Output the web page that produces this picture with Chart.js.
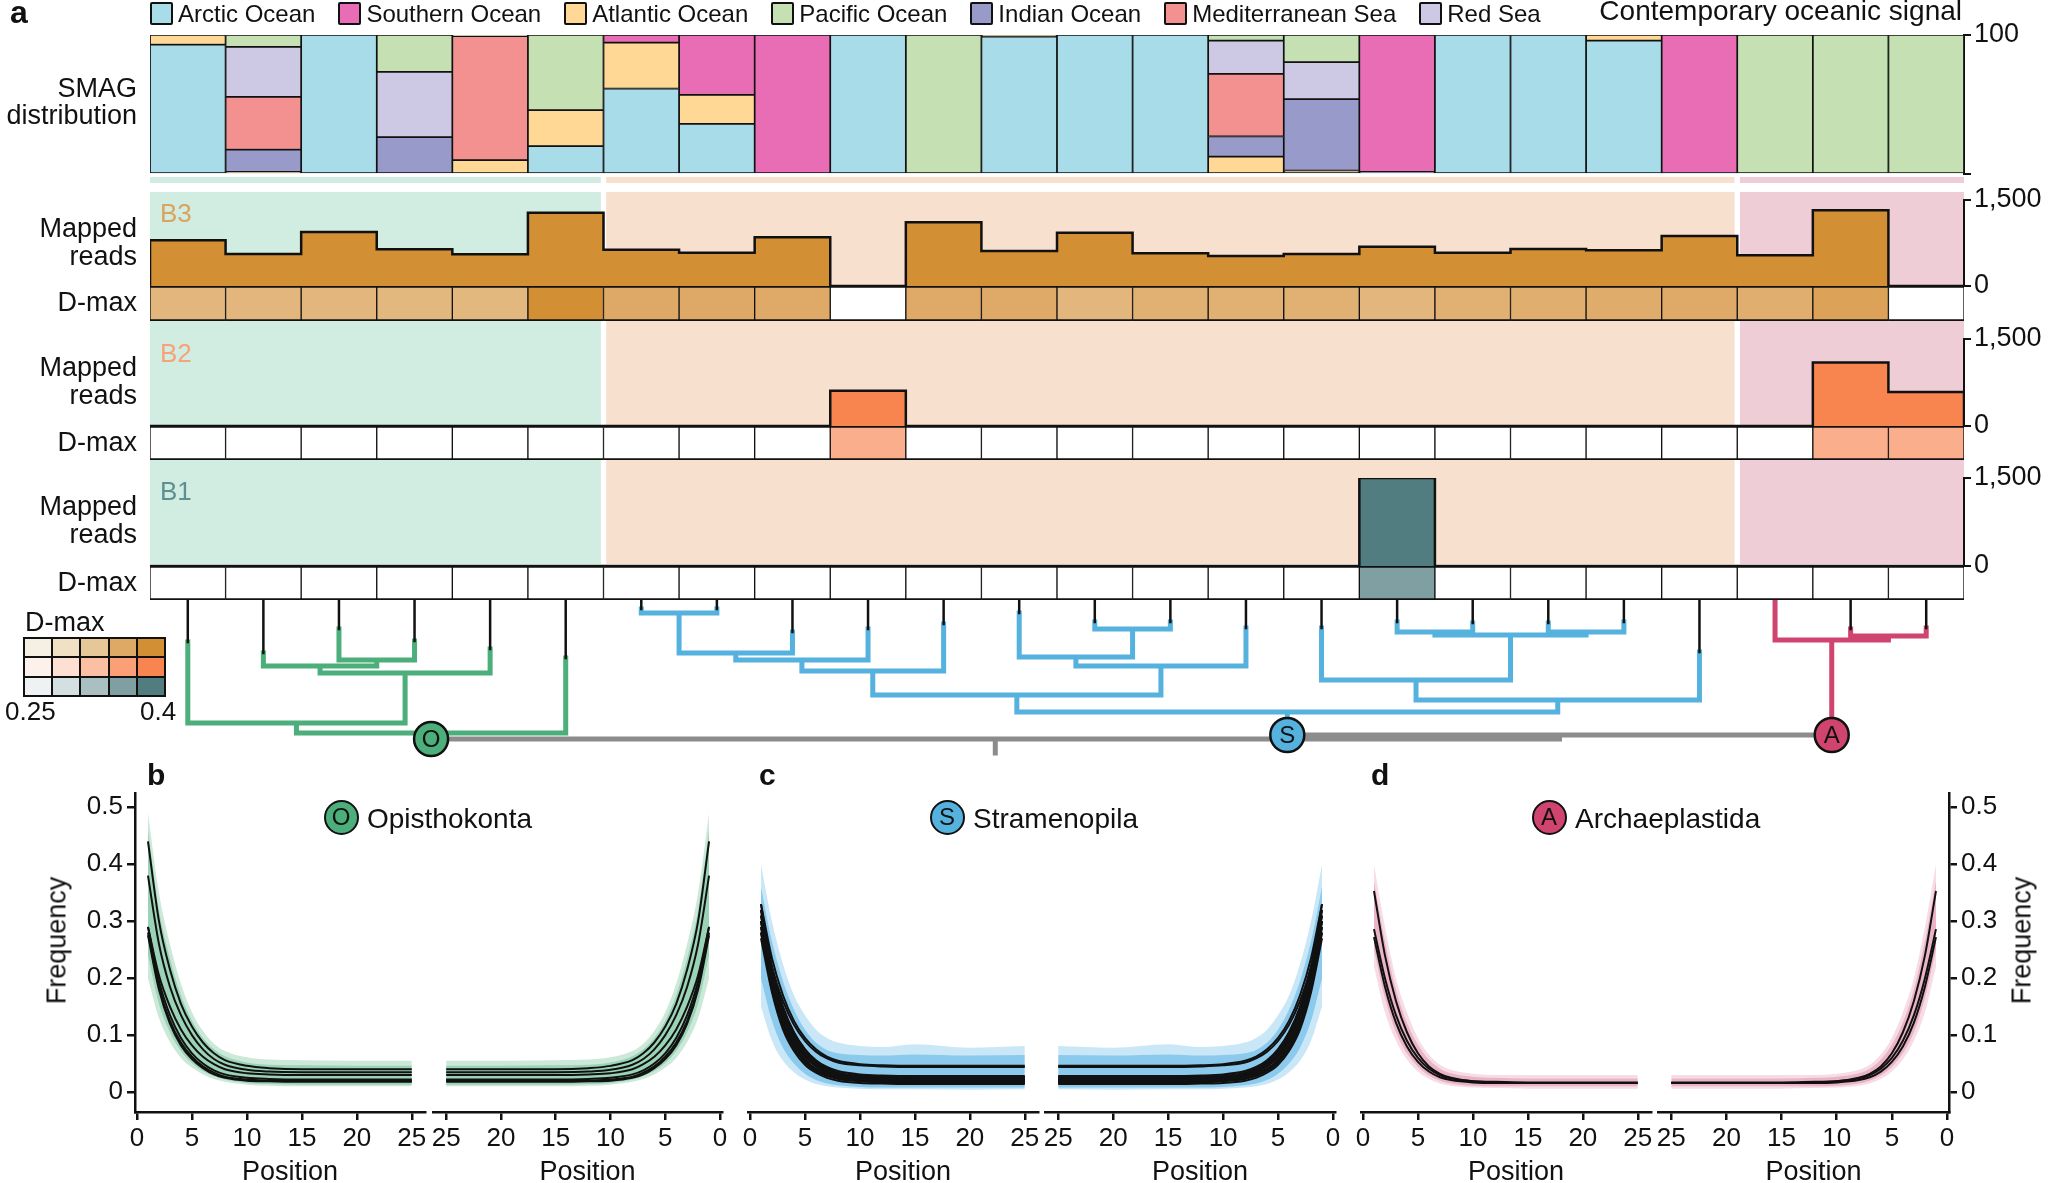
<!DOCTYPE html>
<html>
<head>
<meta charset="utf-8">
<script src="https://cdn.jsdelivr.net/npm/chart.js@4.4.1/dist/chart.umd.min.js"></script>
<style>
  html, body { margin: 0; padding: 0; background: #fff; }
  body { width: 2048px; height: 1183px; position: relative; overflow: hidden;
         font-family: "Liberation Sans", Arial, Helvetica, sans-serif; color: #111; }
  canvas { position: absolute; }
  .txt { position: absolute; white-space: nowrap; z-index: 5; }
  .legend { position: absolute; left: 150px; top: 2px; display: flex; gap: 23px; z-index: 5; font-size: 24px; }
  .legend .item { display: flex; align-items: center; gap: 5px; line-height: 23px; }
  .legend .sw { width: 23px; height: 23px; box-sizing: border-box; border: 2px solid #111; border-radius: 2px; }
  .dmaxkey { position: absolute; left: 23px; top: 637px; width: 143px; height: 60px; box-sizing: border-box;
             display: grid; grid-template-columns: repeat(5, 1fr); grid-template-rows: repeat(3, 1fr);
             gap: 2px; padding: 2px; background: #111; z-index: 5; }
  .badge { position: absolute; width: 35px; height: 35px; box-sizing: border-box; border: 2.5px solid #111;
           border-radius: 50%; text-align: center; font-size: 24px; line-height: 30px; z-index: 5; }
</style>
</head>
<body>
<script>
const FONT = '"Liberation Sans", Arial, Helvetica, sans-serif';
Chart.defaults.font.family = FONT;
Chart.defaults.color = '#111';

// ---------- data ----------
const columnCount = 24;

// SMAG distribution (% of SMAGs per ocean), one array per ocean
const oceanNames = ['Arctic Ocean', 'Southern Ocean', 'Atlantic Ocean', 'Pacific Ocean', 'Indian Ocean', 'Mediterranean Sea', 'Red Sea'];
const smagArctic   = [93, 0, 100, 0, 0, 20, 61.5, 36, 0, 100, 0, 98.8, 100, 100, 0, 0, 0, 100, 100, 96, 0, 0, 0, 0];
const smagAtlantic = [7, 1.5, 0, 0, 10, 26, 33, 21, 0, 0, 0, 1.2, 0, 0, 12.5, 2.5, 0, 0, 0, 4, 0, 0, 0, 0];
const smagIndian   = [0, 16, 0, 26.5, 0, 0, 0, 0, 0, 0, 0, 0, 0, 0, 14.5, 51.3, 1.5, 0, 0, 0, 0.8, 0, 0, 0];
const smagMed      = [0, 38, 0, 0, 89.2, 0, 0, 0, 0, 0, 0, 0, 0, 0, 45, 0, 0, 0, 0, 0, 0, 0, 0, 0];
const smagRedSea   = [0, 36, 0, 47, 0, 0, 0, 0, 0, 0, 0, 0, 0, 0, 24, 26.7, 0, 0, 0, 0, 0, 0, 0, 0];
const smagPacific  = [0, 8.5, 0, 26.5, 0.8, 54, 0, 0, 0, 0, 100, 0, 0, 0, 4, 19.5, 0, 0, 0, 0, 0, 100, 100, 100];
const smagSouthern = [0, 0, 0, 0, 0, 0, 5.5, 43, 100, 0, 0, 0, 0, 0, 0, 0, 98.5, 0, 0, 0, 99.2, 0, 0, 0];

// mapped reads per sample (B3, B2, B1 layers)
const readsB3 = [797, 558, 942, 640, 552, 1279, 634, 581, 849, 0, 1110, 610, 930, 570, 523, 558, 686, 581, 645, 622, 872, 535, 1320, 0];
const readsB2 = [0, 0, 0, 0, 0, 0, 0, 0, 0, 606, 0, 0, 0, 0, 0, 0, 0, 0, 0, 0, 0, 0, 1096, 588];
const readsB1 = [0, 0, 0, 0, 0, 0, 0, 0, 0, 0, 0, 0, 0, 0, 0, 0, 1500, 0, 0, 0, 0, 0, 0, 0];
const readsTicks = [0, 1500];

// D-max per sample (null = not assessed)
const dmaxB3 = [0.345, 0.345, 0.345, 0.343, 0.343, 0.40, 0.362, 0.362, 0.36, null, 0.36, 0.36, 0.345, 0.352, 0.352, 0.352, 0.345, 0.352, 0.355, 0.358, 0.36, 0.355, 0.372, null];
const dmaxB2 = [null, null, null, null, null, null, null, null, null, 0.345, null, null, null, null, null, null, null, null, null, null, null, null, 0.345, 0.345];
const dmaxB1 = [null, null, null, null, null, null, null, null, null, null, null, null, null, null, null, null, 0.362, null, null, null, null, null, null, null];
const dmaxMin = 0.25, dmaxMax = 0.4;

// clades: column ranges, trees ([height, left, right], leaves = column index)
const cladeNames = ['Opisthokonta', 'Stramenopila', 'Archaeplastida'];
const cladeLetters = ['O', 'S', 'A'];
const cladeSpans = [[0, 6], [6, 21], [21, 24]];
const leafTip = [42, 53, 29, 41, 49, 58, 9, 9, 32, 29, 24, 13, 22, 22, 28, 28, 22, 23, 23, 22, 52, 0, 29, 28];
const treeO = [133, [123, 0, [73, [66, 1, [60, 2, 3]], 4]], 5];
const treeS = [112, [95, [71, [60, [53, [13, 6, 7], 8], 9], 10], [66, [57, 11, [29, 12, 13]], 14]],
                    [100, [80, 15, [35, [32, 16, 17], [32, 18, 19]]], 20]];
const treeA = [40, 21, [36, 22, 23]];
const backbone = [139, 'O', [135, 'S', 'A']];
const backboneRootStub = 153;

// damage profiles: frequency by read position
const damagePos = [1, 2, 3, 4, 5, 6, 7, 8, 10, 12, 15, 20, 25];
const freqTicks = [0, 0.1, 0.2, 0.3, 0.4, 0.5];
const posTicks = [0, 5, 10, 15, 20, 25];

const opiLines = [
  [0.44, 0.30, 0.215, 0.155, 0.115, 0.087, 0.068, 0.056, 0.046, 0.042, 0.040, 0.040, 0.040],
  [0.38, 0.26, 0.185, 0.135, 0.100, 0.075, 0.058, 0.048, 0.039, 0.036, 0.035, 0.035, 0.035],
  [0.29, 0.205, 0.150, 0.110, 0.082, 0.062, 0.049, 0.040, 0.033, 0.031, 0.030, 0.030, 0.030],
  [0.29, 0.195, 0.135, 0.095, 0.068, 0.050, 0.038, 0.031, 0.025, 0.023, 0.022, 0.022, 0.022],
  [0.28, 0.185, 0.125, 0.087, 0.062, 0.045, 0.034, 0.027, 0.022, 0.020, 0.020, 0.020, 0.020],
  [0.275, 0.180, 0.120, 0.082, 0.058, 0.042, 0.031, 0.025, 0.020, 0.019, 0.018, 0.018, 0.018]
];
const opiOuter = [
  [0.49, 0.35, 0.26, 0.19, 0.14, 0.107, 0.085, 0.072, 0.061, 0.057, 0.056, 0.055, 0.055],
  [0.20, 0.13, 0.088, 0.06, 0.043, 0.031, 0.023, 0.018, 0.013, 0.011, 0.010, 0.010, 0.010]
];
const opiInner = [
  [0.46, 0.32, 0.235, 0.17, 0.125, 0.095, 0.075, 0.063, 0.052, 0.048, 0.047, 0.046, 0.046],
  [0.24, 0.155, 0.105, 0.072, 0.051, 0.037, 0.028, 0.022, 0.016, 0.014, 0.013, 0.013, 0.013]
];

const strLines = [
  [0.33, 0.235, 0.17, 0.125, 0.095, 0.075, 0.062, 0.055, 0.049, 0.047, 0.046, 0.046, 0.046],
  [0.31, 0.22, 0.16, 0.118, 0.09, 0.071, 0.059, 0.052, 0.047, 0.045, 0.044, 0.044, 0.044],
  [0.33, 0.22, 0.15, 0.105, 0.075, 0.056, 0.044, 0.037, 0.031, 0.029, 0.028, 0.028, 0.028],
  [0.32, 0.21, 0.14, 0.097, 0.068, 0.05, 0.039, 0.033, 0.028, 0.027, 0.026, 0.026, 0.026],
  [0.32, 0.215, 0.148, 0.104, 0.075, 0.055, 0.042, 0.034, 0.028, 0.026, 0.025, 0.025, 0.025],
  [0.31, 0.20, 0.13, 0.088, 0.061, 0.045, 0.035, 0.03, 0.026, 0.025, 0.024, 0.024, 0.024],
  [0.30, 0.205, 0.142, 0.10, 0.072, 0.053, 0.04, 0.032, 0.026, 0.023, 0.022, 0.022, 0.022],
  [0.30, 0.19, 0.125, 0.083, 0.057, 0.041, 0.032, 0.027, 0.023, 0.022, 0.021, 0.021, 0.021],
  [0.30, 0.20, 0.135, 0.093, 0.066, 0.048, 0.036, 0.029, 0.023, 0.021, 0.020, 0.020, 0.020],
  [0.29, 0.185, 0.12, 0.08, 0.055, 0.039, 0.03, 0.025, 0.021, 0.020, 0.019, 0.019, 0.019],
  [0.29, 0.195, 0.132, 0.092, 0.066, 0.048, 0.036, 0.028, 0.022, 0.019, 0.018, 0.018, 0.018],
  [0.28, 0.18, 0.115, 0.076, 0.052, 0.037, 0.028, 0.023, 0.019, 0.018, 0.017, 0.017, 0.017],
  [0.28, 0.19, 0.13, 0.09, 0.064, 0.046, 0.034, 0.026, 0.020, 0.017, 0.016, 0.016, 0.016],
  [0.27, 0.175, 0.11, 0.072, 0.048, 0.034, 0.025, 0.020, 0.016, 0.015, 0.014, 0.014, 0.014]
];
const strOuter = [
  [0.40, 0.30, 0.225, 0.17, 0.135, 0.11, 0.095, 0.087, 0.081, 0.079, 0.084, 0.078, 0.081],
  [0.15, 0.09, 0.055, 0.035, 0.022, 0.014, 0.010, 0.008, 0.006, 0.005, 0.005, 0.004, 0.005]
];
const strInner = [
  [0.36, 0.265, 0.195, 0.145, 0.11, 0.087, 0.074, 0.068, 0.065, 0.064, 0.066, 0.064, 0.065],
  [0.20, 0.125, 0.078, 0.05, 0.032, 0.021, 0.015, 0.012, 0.009, 0.008, 0.008, 0.008, 0.008]
];

const arcLines = [
  [0.353, 0.24, 0.16, 0.105, 0.068, 0.045, 0.032, 0.025, 0.019, 0.018, 0.017, 0.017, 0.017],
  [0.286, 0.20, 0.135, 0.09, 0.06, 0.041, 0.03, 0.024, 0.019, 0.017, 0.016, 0.016, 0.016],
  [0.272, 0.185, 0.122, 0.08, 0.053, 0.036, 0.026, 0.021, 0.017, 0.016, 0.016, 0.016, 0.016]
];
const arcOuter = [
  [0.40, 0.29, 0.20, 0.14, 0.095, 0.066, 0.048, 0.039, 0.032, 0.030, 0.030, 0.030, 0.030],
  [0.22, 0.14, 0.09, 0.057, 0.036, 0.023, 0.015, 0.011, 0.008, 0.007, 0.006, 0.006, 0.006]
];
const arcInner = [
  [0.37, 0.265, 0.18, 0.122, 0.083, 0.057, 0.041, 0.033, 0.027, 0.025, 0.024, 0.024, 0.024],
  [0.25, 0.165, 0.105, 0.068, 0.044, 0.029, 0.020, 0.015, 0.011, 0.010, 0.010, 0.010, 0.010]
];

// ---------- styles ----------
const oceanColor = {
  'Arctic Ocean': '#a9dce9', 'Southern Ocean': '#e86db5', 'Atlantic Ocean': '#fed894', 'Pacific Ocean': '#c5e1b4',
  'Indian Ocean': '#989bc9', 'Mediterranean Sea': '#f39191', 'Red Sea': '#cdc8e4'
};
const paletteB3 = ['#f6efe3', '#f0e0c4', '#e6c797', '#dea865', '#d28f33'];
const paletteB2 = ['#fdf1ec', '#fde0d2', '#fbbfa3', '#fb9f77', '#f8844f'];
const paletteB1 = ['#eef2f2', '#d3dfe0', '#a9bfc2', '#7f9fa3', '#517c80'];
const cladeBand = ['#d1ece0', '#f8e0cf', '#efcdd6'];
const cladeLine = ['#4bae7b', '#55b1dd', '#cf4570'];
const PLOT_LEFT = 150, PLOT_RIGHT = 1964, AXIS_W = 2048 - PLOT_RIGHT;

// ---------- helpers ----------
function addCanvas(x, y, w, h) {
  const c = document.createElement('canvas');
  c.width = w; c.height = h;
  c.style.left = x + 'px'; c.style.top = y + 'px';
  c.style.width = w + 'px'; c.style.height = h + 'px';
  document.body.appendChild(c);
  return c;
}

// place a line of text by its baseline
function textAt(str, x, baseline, size, align, extra) {
  const d = document.createElement('div');
  d.className = 'txt';
  d.textContent = str;
  d.style.fontSize = size + 'px';
  d.style.lineHeight = size + 'px';
  d.style.top = (baseline - 0.8465 * size) + 'px';
  if (align === 'right') d.style.right = (2048 - x) + 'px';
  else if (align === 'center') { d.style.left = (x - 400) + 'px'; d.style.width = '800px'; d.style.textAlign = 'center'; }
  else d.style.left = x + 'px';
  Object.assign(d.style, extra || {});
  document.body.appendChild(d);
  return d;
}

function quiet(o) {
  const base = {
    responsive: false, animation: false, events: [],
    plugins: { legend: { display: false }, tooltip: { enabled: false } }
  };
  const out = Object.assign(base, o);
  out.layout = Object.assign({ autoPadding: false }, o.layout || {});
  return out;
}

function rightAxis(max, fmt, extra) {
  return Object.assign({
    position: 'right', min: 0, max: max,
    afterBuildTicks: s => { s.ticks = [{ value: 0 }, { value: max }]; },
    afterFit: s => { s.width = AXIS_W; },
    grid: { drawOnChartArea: false, drawTicks: true, tickLength: 7, color: '#111', lineWidth: 2 },
    border: { display: true, color: '#111', width: 2 },
    ticks: { font: { size: 27 }, padding: 3, callback: fmt }
  }, extra || {});
}

function hexToRgb(h) {
  const n = parseInt(h.slice(1), 16);
  return [(n >> 16) & 255, (n >> 8) & 255, n & 255];
}
function dmaxColor(v, palette) {
  if (v == null) return '#ffffff';
  let t = Math.max(0, Math.min(1, (v - dmaxMin) / (dmaxMax - dmaxMin))) * (palette.length - 1);
  const i = Math.min(Math.floor(t), palette.length - 2), f = t - i;
  const a = hexToRgb(palette[i]), b = hexToRgb(palette[i + 1]);
  return 'rgb(' + a.map((c, k) => Math.round(c + (b[k] - c) * f)).join(',') + ')';
}

const colLabels = Array.from({ length: columnCount }, (_, i) => 'S' + (i + 1));

// ---------- top legend ----------
const legend = document.createElement('div');
legend.className = 'legend';
oceanNames.forEach(name => {
  const item = document.createElement('div');
  item.className = 'item';
  const sw = document.createElement('div');
  sw.className = 'sw';
  sw.style.background = oceanColor[name];
  const t = document.createElement('span');
  t.textContent = name;
  item.appendChild(sw); item.appendChild(t);
  legend.appendChild(item);
});
document.body.appendChild(legend);
textAt('a', 10, 23, 32, 'left', { fontWeight: 'bold' });
textAt('Contemporary oceanic signal', 1962, 21, 28, 'right');

// ---------- clade background bands ----------
function bandChart(top, height) {
  new Chart(addCanvas(0, top, 2048, height), {
    type: 'bar',
    data: {
      labels: ['band'],
      datasets: cladeSpans.map((span, i) => ({
        data: [span], backgroundColor: cladeBand[i], borderColor: '#fff',
        borderWidth: { left: i > 0 ? 3 : 0, right: i < cladeSpans.length - 1 ? 3 : 0, top: 0, bottom: 0 },
        borderSkipped: false, barPercentage: 1, categoryPercentage: 1, grouped: false
      }))
    },
    options: quiet({
      indexAxis: 'y',
      layout: { padding: { left: PLOT_LEFT, right: AXIS_W, top: 0, bottom: 0 } },
      scales: { x: { type: 'linear', min: 0, max: columnCount, display: false }, y: { display: false } }
    })
  });
}
bandChart(177, 6);
bandChart(192, 372);

// ---------- SMAG distribution ----------
const stackOrder = ['Arctic Ocean', 'Atlantic Ocean', 'Indian Ocean', 'Mediterranean Sea', 'Red Sea', 'Pacific Ocean', 'Southern Ocean'];
const smagShare = {
  'Arctic Ocean': smagArctic, 'Atlantic Ocean': smagAtlantic, 'Indian Ocean': smagIndian,
  'Mediterranean Sea': smagMed, 'Red Sea': smagRedSea, 'Pacific Ocean': smagPacific, 'Southern Ocean': smagSouthern
};
new Chart(addCanvas(0, 15, 2048, 180), {
  type: 'bar',
  data: {
    labels: colLabels,
    datasets: stackOrder.map(name => ({
      label: name, data: smagShare[name].map(v => v || null),
      backgroundColor: oceanColor[name], borderColor: '#111', borderWidth: 1.2, borderSkipped: false,
      barPercentage: 1, categoryPercentage: 1
    }))
  },
  options: quiet({
    layout: { padding: { left: PLOT_LEFT, right: 0, top: 20, bottom: 21 } },
    scales: {
      x: { stacked: true, display: false },
      y: rightAxis(100, v => (v === 100 ? '100' : ''), { stacked: true })
    }
  })
});
textAt('SMAG', 137, 98, 27, 'right');
textAt('distribution', 137, 125, 27, 'right');

// ---------- mapped reads + D-max rows ----------
function readsChart(areaTop, areaBottom, values, fill) {
  const pts = [{ x: 0, y: 0 }].concat(values.map((v, i) => ({ x: i, y: v })), [{ x: columnCount, y: 0 }]);
  new Chart(addCanvas(0, areaTop - 20, 2048, areaBottom - areaTop + 40), {
    type: 'line',
    data: { datasets: [{ data: pts, stepped: true, borderColor: '#111', borderWidth: 2.5, backgroundColor: fill, fill: 'origin', pointRadius: 0 }] },
    options: quiet({
      layout: { padding: { left: PLOT_LEFT, right: 0, top: 20, bottom: 20 } },
      scales: {
        x: { type: 'linear', min: 0, max: columnCount, display: false },
        y: rightAxis(readsTicks[1], v => v.toLocaleString('en-US'))
      }
    })
  });
}
function dmaxChart(areaTop, areaBottom, values, palette) {
  new Chart(addCanvas(0, areaTop, 2048, areaBottom - areaTop), {
    type: 'bar',
    data: {
      labels: colLabels,
      datasets: [{
        data: values.map(() => 1),
        backgroundColor: values.map(v => dmaxColor(v, palette)),
        borderColor: '#111', borderWidth: { top: 2, bottom: 2, left: 1, right: 1 }, borderSkipped: false,
        barPercentage: 1, categoryPercentage: 1
      }]
    },
    options: quiet({
      layout: { padding: { left: PLOT_LEFT, right: AXIS_W, top: 0, bottom: 0 } },
      scales: { x: { display: false }, y: { display: false, min: 0, max: 1 } }
    })
  });
}
const layers = [
  { name: 'B3', reads: readsB3, dmax: dmaxB3, palette: paletteB3, label: '#d9a45e', top: 200, base: 286, bottom: 321, nameBase: 222, line1: 238, dmaxBase: 312 },
  { name: 'B2', reads: readsB2, dmax: dmaxB2, palette: paletteB2, label: '#f6a27a', top: 339, base: 426, bottom: 460, nameBase: 362, line1: 377, dmaxBase: 452 },
  { name: 'B1', reads: readsB1, dmax: dmaxB1, palette: paletteB1, label: '#5e9092', top: 478, base: 566, bottom: 600, nameBase: 500, line1: 516, dmaxBase: 592 }
];
layers.forEach(l => {
  readsChart(l.top, l.base, l.reads, l.palette[l.palette.length - 1]);
  dmaxChart(l.base, l.bottom, l.dmax, l.palette);
  textAt(l.name, 160, l.nameBase, 26, 'left', { color: l.label });
  textAt('Mapped', 137, l.line1, 27, 'right');
  textAt('reads', 137, l.line1 + 28, 27, 'right');
  textAt('D-max', 137, l.dmaxBase, 27, 'right');
});

// ---------- D-max key ----------
const key = document.createElement('div');
key.className = 'dmaxkey';
[paletteB3, paletteB2, paletteB1].forEach(p => p.forEach(c => {
  const cell = document.createElement('div');
  cell.style.background = c;
  key.appendChild(cell);
}));
document.body.appendChild(key);
textAt('D-max', 25, 632, 27, 'left');
textAt(String(dmaxMin), 5, 720, 26, 'left');
textAt(String(dmaxMax), 140, 720, 26, 'left');

// ---------- tree ----------
function layoutTree(node, segs) {
  if (typeof node === 'number') return { x: node + 0.5, top: leafTip[node] };
  const [h, a, b] = node;
  const l = layoutTree(a, segs), r = layoutTree(b, segs);
  const x = (l.x + r.x) / 2;
  segs.push([{ x: l.x, y: l.top }, { x: l.x, y: h }, { x: x, y: h }]);
  segs.push([{ x: r.x, y: r.top }, { x: r.x, y: h }, { x: x, y: h }]);
  return { x: x, top: h };
}
function joinSegs(segs) {
  const out = [];
  segs.forEach(s => { out.push(...s, { x: null, y: null }); });
  return out;
}
const cladeSegs = [[], [], []];
const cladeRoots = [treeO, treeS, treeA].map((t, i) => layoutTree(t, cladeSegs[i]));
const rootX = {}; cladeLetters.forEach((c, i) => { rootX[c] = cladeRoots[i].x; });
const circleDepth = {};
const greySegs = [];
function layoutBackbone(node, parentH) {
  if (typeof node === 'string') { circleDepth[node] = parentH; return { x: rootX[node], top: parentH }; }
  const [h, a, b] = node;
  const l = layoutBackbone(a, h), r = layoutBackbone(b, h);
  const x = (l.x + r.x) / 2;
  greySegs.push([{ x: l.x, y: l.top }, { x: l.x, y: h }, { x: x, y: h }]);
  greySegs.push([{ x: r.x, y: r.top }, { x: r.x, y: h }, { x: x, y: h }]);
  return { x: x, top: h };
}
const bbRoot = layoutBackbone(backbone, backbone[0]);
greySegs.push([{ x: bbRoot.x, y: bbRoot.top }, { x: bbRoot.x, y: backboneRootStub }]);
cladeLetters.forEach((c, i) => {
  cladeSegs[i].push([{ x: cladeRoots[i].x, y: cladeRoots[i].top }, { x: cladeRoots[i].x, y: circleDepth[c] }]);
});
const tipSegs = [];
leafTip.forEach((t, i) => { if (t > 0) tipSegs.push([{ x: i + 0.5, y: 0 }, { x: i + 0.5, y: t }]); });

const lineSet = (data, color, width, order) => ({
  data: data, showLine: true, borderColor: color, borderWidth: width, pointRadius: 0,
  borderJoinStyle: 'miter', borderCapStyle: 'square', spanGaps: false, order: order
});
const letterPlugin = {
  id: 'letters',
  afterDatasetsDraw(chart) {
    const ctx = chart.ctx;
    const meta = chart.getDatasetMeta(0);
    ctx.save();
    ctx.font = '24px ' + FONT;
    ctx.fillStyle = '#111';
    ctx.textAlign = 'center';
    ctx.textBaseline = 'middle';
    meta.data.forEach((pt, i) => ctx.fillText(cladeLetters[i], pt.x, pt.y + 1));
    ctx.restore();
  }
};
new Chart(addCanvas(0, 598, 2048, 172), {
  type: 'scatter',
  data: {
    datasets: [
      {
        data: cladeLetters.map(c => ({ x: rootX[c], y: circleDepth[c] })),
        pointRadius: 17, pointBackgroundColor: cladeLine, pointBorderColor: '#111', pointBorderWidth: 2.5, order: 0
      },
      lineSet(joinSegs(tipSegs), '#111', 2.5, 1),
      lineSet(joinSegs(cladeSegs[0]), cladeLine[0], 5, 2),
      lineSet(joinSegs(cladeSegs[1]), cladeLine[1], 5, 2),
      lineSet(joinSegs(cladeSegs[2]), cladeLine[2], 5, 2),
      lineSet(joinSegs(greySegs), '#8c8c8c', 5, 3)
    ]
  },
  options: quiet({
    layout: { padding: { left: PLOT_LEFT, right: AXIS_W, top: 2, bottom: 10 } },
    scales: {
      x: { type: 'linear', min: 0, max: columnCount, display: false },
      y: { type: 'linear', min: 0, max: 160, reverse: true, display: false }
    }
  }),
  plugins: [letterPlugin]
});

// ---------- damage profiles ----------
const panels = [
  { letter: 'b', letterX: 147, lines: opiLines, outer: opiOuter, inner: opiInner, badgeX: 341,
    outerFill: 'rgba(140,205,170,0.45)', innerFill: 'rgba(80,180,130,0.5)',
    subplots: [{ left: 135, right: 425, rev: false, axis: 'left' }, { left: 433, right: 722, rev: true, axis: null }] },
  { letter: 'c', letterX: 759, lines: strLines, outer: strOuter, inner: strInner, badgeX: 947,
    outerFill: 'rgba(120,195,235,0.4)', innerFill: 'rgba(70,170,225,0.55)',
    subplots: [{ left: 748, right: 1038, rev: false, axis: null }, { left: 1045, right: 1335, rev: true, axis: null }] },
  { letter: 'd', letterX: 1371, lines: arcLines, outer: arcOuter, inner: arcInner, badgeX: 1549,
    outerFill: 'rgba(225,140,170,0.3)', innerFill: 'rgba(215,110,150,0.4)',
    subplots: [{ left: 1361, right: 1651, rev: false, axis: null }, { left: 1658, right: 1949, rev: true, axis: 'right' }] }
];
const toPts = arr => damagePos.map((p, i) => ({ x: p, y: arr[i] }));

function damageChart(sp, panel) {
  const pad = 16;
  const cx = sp.axis === 'left' ? 0 : sp.left - pad;
  const cw = sp.axis === 'right' ? 2048 - cx : sp.right + pad - cx;
  const datasets = panel.lines.map(l => ({
    data: toPts(l), borderColor: '#111', borderWidth: 2, pointRadius: 0, fill: false,
    cubicInterpolationMode: 'monotone', order: 1
  }));
  [[panel.outer, panel.outerFill], [panel.inner, panel.innerFill]].forEach(([band, color]) => {
    datasets.push({ data: toPts(band[1]), borderWidth: 0, pointRadius: 0, fill: false, cubicInterpolationMode: 'monotone', order: 2 });
    datasets.push({ data: toPts(band[0]), borderWidth: 0, pointRadius: 0, fill: '-1', backgroundColor: color, cubicInterpolationMode: 'monotone', order: 2 });
  });
  const axisStyle = {
    grid: { drawOnChartArea: false, drawTicks: true, tickLength: 8, color: '#111', lineWidth: 2.5 },
    border: { display: true, color: '#111', width: 2.5 }
  };
  const yAxis = Object.assign({
    type: 'linear', min: -0.035, max: 0.525, display: !!sp.axis, position: sp.axis || 'left',
    afterBuildTicks: s => { s.ticks = freqTicks.map(v => ({ value: v })); },
    ticks: { font: { size: 26 }, padding: 4, callback: v => String(v) }
  }, axisStyle);
  if (sp.axis) yAxis.afterFit = s => { s.width = sp.axis === 'right' ? 2048 - sp.right : sp.left; };
  new Chart(addCanvas(cx, 770, cw, 430), {
    type: 'line',
    data: { datasets: datasets },
    options: quiet({
      layout: { padding: { left: sp.axis === 'left' ? 0 : pad, right: sp.axis === 'right' ? 0 : pad, top: 23, bottom: 0 } },
      scales: {
        x: Object.assign({
          type: 'linear', min: -0.18, max: 26.2, reverse: sp.rev,
          afterBuildTicks: s => { s.ticks = posTicks.map(v => ({ value: v })); },
          afterFit: s => { s.height = 88; },
          ticks: { font: { size: 26 }, padding: 3, maxRotation: 0, autoSkip: false, callback: v => String(v) }
        }, axisStyle),
        y: yAxis
      }
    })
  });
  textAt('Position', (sp.left + sp.right) / 2 + 10, 1181, 27, 'center');
}

panels.forEach((p, i) => {
  p.subplots.forEach(sp => damageChart(sp, p));
  textAt(p.letter, p.letterX, 785, 30, 'left', { fontWeight: 'bold' });
  const b = document.createElement('div');
  b.className = 'badge';
  b.textContent = cladeLetters[i];
  b.style.left = (p.badgeX - 17.5) + 'px';
  b.style.top = (817 - 17.5) + 'px';
  b.style.background = cladeLine[i];
  document.body.appendChild(b);
  textAt(cladeNames[i], p.badgeX + 26, 829, 28, 'left');
});

// rotated y titles
[[57, 940], [2022, 940]].forEach(([x, y]) => {
  const d = document.createElement('div');
  d.className = 'txt';
  d.textContent = 'Frequency';
  Object.assign(d.style, {
    fontSize: '27px', lineHeight: '27px', width: '200px', height: '27px', textAlign: 'center',
    left: (x - 100) + 'px', top: (y - 13.5) + 'px', transform: 'rotate(-90deg)'
  });
  document.body.appendChild(d);
});
</script>
</body>
</html>
